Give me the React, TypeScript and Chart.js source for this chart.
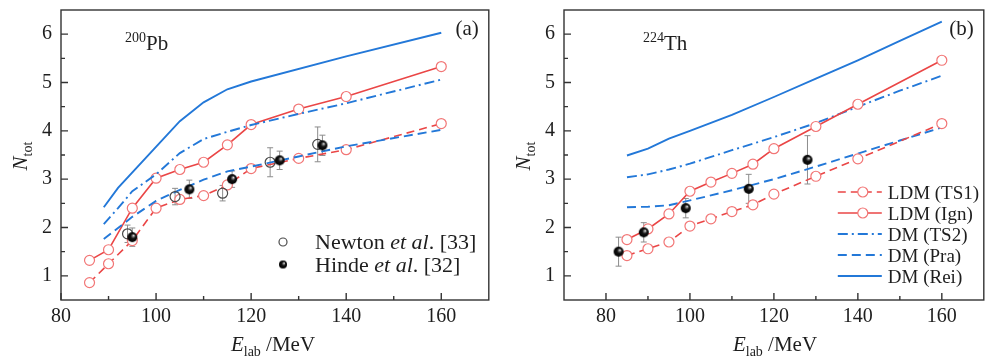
import React, { useEffect, useRef } from "react";
import { Chart, registerables } from "chart.js";

Chart.register(...registerables);

const SERIF = '"Liberation Serif", "Times New Roman", Times, serif';
const RED = "#ea4646";
const RED_MARK = "#f27676";
const BLUE = "#2378d8";
const AXIS = "#333333";
const TEXT = "#1e1e1e";

// ---- 200Pb ----
const pbCalcEnergy = [86, 90, 95, 100, 105, 110, 115, 120, 130, 140, 160];
const pbLdmTs1 = [0.86, 1.25, 1.73, 2.4, 2.58, 2.66, 2.88, 3.22, 3.43, 3.61, 4.15];
const pbLdmIgn = [1.32, 1.54, 2.4, 3.02, 3.2, 3.35, 3.71, 4.13, 4.45, 4.71, 5.33];
const pbDmEnergy = [89, 92, 95, 100, 105, 110, 115, 120, 130, 140, 160];
const pbDmTs2 = [2.07, 2.4, 2.75, 3.1, 3.54, 3.83, 3.98, 4.12, 4.35, 4.57, 5.06];
const pbDmPra = [1.76, 1.99, 2.22, 2.55, 2.78, 2.99, 3.16, 3.26, 3.47, 3.68, 4.02];
const pbReiEnergy = [89, 92, 105, 110, 115, 120, 140, 160];
const pbDmRei = [2.42, 2.82, 4.2, 4.59, 4.86, 5.02, 5.54, 6.03];
const pbNewtonEnergy = [94, 104, 114, 124, 134];
const pbNewton = [1.87, 2.64, 2.71, 3.35, 3.72];
const pbNewtonErr = [0.18, 0.17, 0.16, 0.3, 0.36];
const pbHindeEnergy = [95, 107, 116, 126, 135];
const pbHinde = [1.8, 2.79, 3.0, 3.39, 3.7];
const pbHindeErr = [0.19, 0.19, 0.17, 0.19, 0.21];

// ---- 224Th ----
const thCalcEnergy = [85, 90, 95, 100, 105, 110, 115, 120, 130, 140, 160];
const thLdmTs1 = [1.42, 1.56, 1.7, 2.03, 2.18, 2.33, 2.47, 2.69, 3.06, 3.42, 4.15];
const thLdmIgn = [1.75, 1.97, 2.28, 2.75, 2.94, 3.12, 3.31, 3.63, 4.09, 4.55, 5.46];
const thDmEnergy = [85, 90, 95, 100, 110, 120, 130, 140, 150, 160];
const thDmTs2 = [3.04, 3.1, 3.2, 3.32, 3.6, 3.87, 4.16, 4.5, 4.83, 5.14];
const thDmPra = [2.42, 2.43, 2.46, 2.56, 2.77, 3.0, 3.26, 3.53, 3.8, 4.07];
const thDmRei = [3.49, 3.63, 3.84, 4.0, 4.33, 4.7, 5.08, 5.46, 5.86, 6.26];
const thHindeEnergy = [83, 89, 99, 114, 128];
const thHinde = [1.5, 1.9, 2.4, 2.8, 3.4];
const thHindeErr = [0.3, 0.2, 0.2, 0.3, 0.5];

// ---- axes ----
const energyTicks = [80, 100, 120, 140, 160];
const energyMinorTicks = [90, 110, 130, 150];
const nTicks = [1, 2, 3, 4, 5, 6];
const nMinorTicks = [1.5, 2.5, 3.5, 4.5, 5.5];

const xy = (xs: number[], ys: number[]) => xs.map((x, i) => ({ x, y: ys[i] }));

function makeBall(r: number): HTMLCanvasElement {
  const s = Math.ceil(r * 2 + 2);
  const c = document.createElement("canvas");
  c.width = s;
  c.height = s;
  const g = c.getContext("2d")!;
  const cx = s / 2;
  const cy = s / 2;
  const grad = g.createRadialGradient(cx + r * 0.3, cy - r * 0.35, 0.2, cx, cy, r);
  grad.addColorStop(0, "#ffffff");
  grad.addColorStop(0.16, "#8a8a8a");
  grad.addColorStop(0.45, "#121212");
  grad.addColorStop(1, "#000000");
  g.fillStyle = grad;
  g.beginPath();
  g.arc(cx, cy, r, 0, Math.PI * 2);
  g.fill();
  return c;
}

type Panel = {
  xMin: number;
  yAxisWidth: number;
  padRight: number;
  tag: string;
  mass: string;
  element: string;
  nucleusX: number;
  nTitleX: number;
  eTitleX: number;
  legend: "experiments" | "models";
};

function calcSeries(energy: number[], ts1: number[], ign: number[]) {
  return [
    {
      label: "LDM (TS1)",
      data: xy(energy, ts1),
      borderColor: RED,
      borderWidth: 1.6,
      borderDash: [8, 5],
      pointRadius: 5,
      pointBorderColor: RED_MARK,
      pointBackgroundColor: "#ffffff",
      pointBorderWidth: 1.2,
      legendMarker: true,
    },
    {
      label: "LDM (Ign)",
      data: xy(energy, ign),
      borderColor: RED,
      borderWidth: 1.6,
      pointRadius: 5,
      pointBorderColor: RED_MARK,
      pointBackgroundColor: "#ffffff",
      pointBorderWidth: 1.2,
      legendMarker: true,
    },
  ];
}

function dmSeries(ts2E: number[], ts2: number[], praE: number[], pra: number[], reiE: number[], rei: number[]) {
  return [
    { label: "DM (TS2)", data: xy(ts2E, ts2), borderColor: BLUE, borderWidth: 1.9, borderDash: [10, 4, 2, 4], pointRadius: 0 },
    { label: "DM (Pra)", data: xy(praE, pra), borderColor: BLUE, borderWidth: 1.9, borderDash: [9, 5], pointRadius: 0 },
    { label: "DM (Rei)", data: xy(reiE, rei), borderColor: BLUE, borderWidth: 1.9, pointRadius: 0 },
  ];
}

function drawMixed(ctx: CanvasRenderingContext2D, label: string, x: number, y: number, size: number) {
  const parts = label.split("et al.");
  let cx = x;
  parts.forEach((p, i) => {
    ctx.font = `${size}px ${SERIF}`;
    ctx.fillText(p, cx, y);
    cx += ctx.measureText(p).width;
    if (i < parts.length - 1) {
      ctx.font = `italic ${size}px ${SERIF}`;
      ctx.fillText("et al", cx, y);
      cx += ctx.measureText("et al").width;
      ctx.font = `${size}px ${SERIF}`;
      ctx.fillText(".", cx, y);
      cx += ctx.measureText(".").width;
    }
  });
}

function decorPlugin(p: Panel) {
  return {
    id: "panelDecor",
    beforeDatasetsDraw(chart: any) {
      const ctx: CanvasRenderingContext2D = chart.ctx;
      const ys = chart.scales.y;
      ctx.save();
      ctx.strokeStyle = "#8c8c8c";
      ctx.lineWidth = 1;
      chart.data.datasets.forEach((ds: any, i: number) => {
        if (!ds.errors) return;
        const meta = chart.getDatasetMeta(i);
        meta.data.forEach((el: any, j: number) => {
          const v = ds.data[j].y;
          const e = ds.errors[j];
          const top = ys.getPixelForValue(v + e);
          const bot = ys.getPixelForValue(v - e);
          ctx.beginPath();
          ctx.moveTo(el.x, top);
          ctx.lineTo(el.x, bot);
          ctx.moveTo(el.x - 3, top);
          ctx.lineTo(el.x + 3, top);
          ctx.moveTo(el.x - 3, bot);
          ctx.lineTo(el.x + 3, bot);
          ctx.stroke();
        });
      });
      ctx.restore();
    },
    afterDraw(chart: any) {
      const ctx: CanvasRenderingContext2D = chart.ctx;
      const a = chart.chartArea;
      const xs = chart.scales.x;
      const ys = chart.scales.y;
      ctx.save();
      // frame
      ctx.strokeStyle = AXIS;
      ctx.lineWidth = 1.4;
      ctx.strokeRect(a.left, a.top, a.right - a.left, a.bottom - a.top);
      // inward ticks
      ctx.beginPath();
      energyTicks.forEach((v) => {
        const x = xs.getPixelForValue(v);
        ctx.moveTo(x, a.bottom);
        ctx.lineTo(x, a.bottom - 7);
      });
      energyMinorTicks.forEach((v) => {
        const x = xs.getPixelForValue(v);
        ctx.moveTo(x, a.bottom);
        ctx.lineTo(x, a.bottom - 4);
      });
      nTicks.forEach((v) => {
        const y = ys.getPixelForValue(v);
        ctx.moveTo(a.left, y);
        ctx.lineTo(a.left + 7, y);
      });
      nMinorTicks.forEach((v) => {
        const y = ys.getPixelForValue(v);
        ctx.moveTo(a.left, y);
        ctx.lineTo(a.left + 4, y);
      });
      ctx.stroke();

      ctx.fillStyle = TEXT;
      ctx.textBaseline = "alphabetic";
      // y title: N_tot
      ctx.save();
      ctx.translate(p.nTitleX, 156);
      ctx.rotate(-Math.PI / 2);
      ctx.font = `italic 21px ${SERIF}`;
      const wN = ctx.measureText("N").width;
      ctx.font = `14px ${SERIF}`;
      const wT = ctx.measureText("tot").width;
      const start = -(wN + wT) / 2;
      ctx.font = `italic 21px ${SERIF}`;
      ctx.fillText("N", start, 0);
      ctx.font = `14px ${SERIF}`;
      ctx.fillText("tot", start + wN, 5);
      ctx.restore();

      // x title: E_lab /MeV
      ctx.font = `italic 21px ${SERIF}`;
      const wE = ctx.measureText("E").width;
      ctx.font = `14px ${SERIF}`;
      const wL = ctx.measureText("lab").width;
      ctx.font = `21px ${SERIF}`;
      const wM = ctx.measureText(" /MeV").width;
      let ex = p.eTitleX - (wE + wL + wM) / 2;
      ctx.font = `italic 21px ${SERIF}`;
      ctx.fillText("E", ex, 351);
      ex += wE;
      ctx.font = `14px ${SERIF}`;
      ctx.fillText("lab", ex, 356);
      ex += wL;
      ctx.font = `21px ${SERIF}`;
      ctx.fillText(" /MeV", ex, 351);

      // panel tag
      ctx.font = `21px ${SERIF}`;
      ctx.textAlign = "right";
      ctx.fillText(p.tag, a.right - 10, 35);
      ctx.textAlign = "left";

      // nucleus label
      ctx.font = `14px ${SERIF}`;
      ctx.fillText(p.mass, p.nucleusX, 42);
      const wMass = ctx.measureText(p.mass).width;
      ctx.font = `21px ${SERIF}`;
      ctx.fillText(p.element, p.nucleusX + wMass, 50);

      // legend
      if (p.legend === "experiments") {
        const rows = chart.data.datasets.filter((d: any) => d.isExperiment);
        rows.forEach((ds: any, i: number) => {
          const yRow = 242 + i * 22.5;
          const mx = 283;
          if (ds.pointStyle instanceof HTMLCanvasElement) {
            const img = makeBall(4);
            ctx.drawImage(img, mx - img.width / 2, yRow - img.height / 2);
          } else {
            ctx.strokeStyle = ds.pointBorderColor;
            ctx.lineWidth = 1.2;
            ctx.beginPath();
            ctx.arc(mx, yRow, 4, 0, Math.PI * 2);
            ctx.stroke();
          }
          ctx.fillStyle = TEXT;
          drawMixed(ctx, ds.label, 315, yRow + 7, 22);
        });
      } else {
        const rows = chart.data.datasets.filter((d: any) => !d.isExperiment);
        const x0 = a.right - 146;
        const x1 = x0 + 44;
        rows.forEach((ds: any, i: number) => {
          const yRow = 192 + i * 21;
          ctx.strokeStyle = ds.borderColor;
          ctx.lineWidth = ds.borderWidth;
          ctx.setLineDash(ds.borderDash || []);
          ctx.beginPath();
          ctx.moveTo(x0, yRow);
          ctx.lineTo(x1, yRow);
          ctx.stroke();
          ctx.setLineDash([]);
          if (ds.legendMarker) {
            ctx.fillStyle = "#ffffff";
            ctx.strokeStyle = ds.pointBorderColor;
            ctx.lineWidth = 1.2;
            ctx.beginPath();
            ctx.arc((x0 + x1) / 2 + 3, yRow, 5, 0, Math.PI * 2);
            ctx.fill();
            ctx.stroke();
          }
          ctx.fillStyle = TEXT;
          ctx.font = `19px ${SERIF}`;
          ctx.fillText(ds.label, x1 + 6, yRow + 6.5);
        });
      }
      ctx.restore();
    },
  };
}

function buildConfig(p: Panel, datasets: any[]): any {
  return {
    type: "line",
    data: { datasets },
    options: {
      responsive: false,
      animation: false,
      devicePixelRatio: 1,
      parsing: false,
      layout: { padding: { top: 10, right: p.padRight, left: 0, bottom: 0 } },
      elements: { line: { tension: 0 } },
      plugins: { legend: { display: false }, tooltip: { enabled: false } },
      scales: {
        x: {
          type: "linear",
          min: p.xMin,
          max: 170,
          afterBuildTicks: (s: any) => {
            s.ticks = energyTicks.map((v) => ({ value: v }));
          },
          afterFit: (s: any) => {
            s.height = 63;
            s.paddingLeft = 0;
            s.paddingRight = 0;
          },
          grid: { display: false, drawTicks: false },
          border: { display: false },
          ticks: { font: { family: SERIF, size: 20 }, color: TEXT, padding: 5, maxRotation: 0, autoSkip: false },
        },
        y: {
          type: "linear",
          min: 0.5,
          max: 6.5,
          afterBuildTicks: (s: any) => {
            s.ticks = nTicks.map((v) => ({ value: v }));
          },
          afterFit: (s: any) => {
            s.width = p.yAxisWidth;
            s.paddingTop = 0;
            s.paddingBottom = 0;
          },
          grid: { display: false, drawTicks: false },
          border: { display: false },
          ticks: { font: { family: SERIF, size: 20 }, color: TEXT, padding: 9 },
        },
      },
    },
    plugins: [decorPlugin(p)],
  };
}

const panelA: Panel = {
  xMin: 80,
  yAxisWidth: 61,
  padRight: 6,
  tag: "(a)",
  mass: "200",
  element: "Pb",
  nucleusX: 125,
  nTitleX: 27,
  eTitleX: 273,
  legend: "experiments",
};

const panelB: Panel = {
  xMin: 70,
  yAxisWidth: 69,
  padRight: 1,
  tag: "(b)",
  mass: "224",
  element: "Th",
  nucleusX: 148,
  nTitleX: 35,
  eTitleX: 280,
  legend: "models",
};

function NucleusChart({ panel, left }: { panel: Panel; left: number }) {
  const ref = useRef<HTMLCanvasElement>(null);
  useEffect(() => {
    const ball = makeBall(5);
    let datasets: any[];
    if (panel.legend === "experiments") {
      datasets = [
        {
          label: "Newton et al. [33]",
          data: xy(pbNewtonEnergy, pbNewton),
          errors: pbNewtonErr,
          showLine: false,
          pointRadius: 5,
          pointBorderColor: "#4a4a4a",
          pointBackgroundColor: "rgba(255,255,255,0)",
          pointBorderWidth: 1.2,
          isExperiment: true,
          order: 1,
        },
        {
          label: "Hinde et al. [32]",
          data: xy(pbHindeEnergy, pbHinde),
          errors: pbHindeErr,
          showLine: false,
          pointStyle: ball,
          isExperiment: true,
          order: 0,
        },
        ...dmSeries(pbDmEnergy, pbDmTs2, pbDmEnergy, pbDmPra, pbReiEnergy, pbDmRei),
        ...calcSeries(pbCalcEnergy, pbLdmTs1, pbLdmIgn),
      ];
    } else {
      datasets = [
        {
          label: "Hinde et al. [32]",
          data: xy(thHindeEnergy, thHinde),
          errors: thHindeErr,
          showLine: false,
          pointStyle: ball,
          isExperiment: true,
        },
        ...calcSeries(thCalcEnergy, thLdmTs1, thLdmIgn),
        ...dmSeries(thDmEnergy, thDmTs2, thDmEnergy, thDmPra, thDmEnergy, thDmRei),
      ];
    }
    datasets.forEach((d, i) => {
      if (d.order === undefined) d.order = i + 2;
    });
    const chart = new Chart(ref.current!, buildConfig(panel, datasets));
    return () => chart.destroy();
  }, [panel]);
  return (
    <canvas
      ref={ref}
      width={495}
      height={363}
      style={{ position: "absolute", left, top: 0, width: 495, height: 363 }}
    />
  );
}

export default function App() {
  return (
    <div style={{ position: "fixed", left: 0, top: 0, width: 990, height: 363, background: "#ffffff" }}>
      <NucleusChart panel={panelA} left={0} />
      <NucleusChart panel={panelB} left={495} />
    </div>
  );
}
